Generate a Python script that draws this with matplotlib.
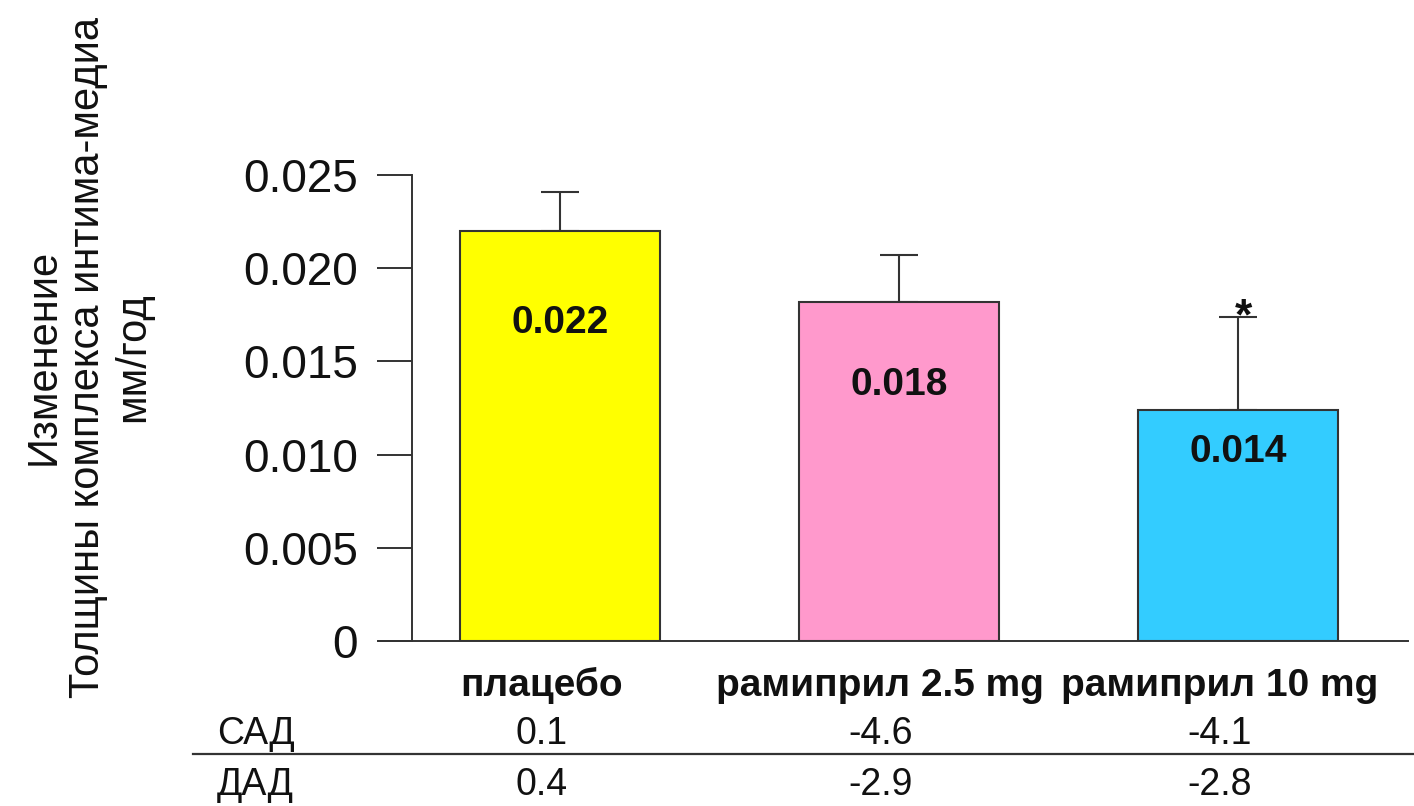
"""
Изменение толщины комплекса интима-медиа (плацебо vs рамиприл)
"""
import matplotlib.pyplot as plt
import numpy as np
from matplotlib.lines import Line2D
from matplotlib.transforms import blended_transform_factory

plt.rcParams["font.family"] = ["Liberation Sans", "DejaVu Sans"]

# data
GROUPS = ["плацебо", "рамиприл 2.5 mg", "рамиприл 10 mg"]
IMT_CHANGE = [0.0220, 0.0182, 0.0124]          # мм/год
IMT_ERR = [0.0021, 0.0025, 0.0050]             # upper error bar
BAR_TEXT = ["0.022", "0.018", "0.014"]
SIGNIF = ["", "", "*"]

ROW_NAMES = ["САД", "ДАД"]
SBP_CHANGE = ["0.1", "-4.6", "-4.1"]
DBP_CHANGE = ["0.4", "-2.9", "-2.8"]

Y_TICKS = [0, 0.005, 0.010, 0.015, 0.020, 0.025]
Y_TICK_LABELS = ["0", "0.005", "0.010", "0.015", "0.020", "0.025"]

COLORS = ["#ffff00", "#ff99cc", "#33ccff"]
EDGE = "#333333"
# how far below the bar top each value label sits (points)
LABEL_DROP_PT = [66, 60, 30]

W, H = 1414, 806


def main():
    fig = plt.figure(figsize=(W / 100, H / 100), dpi=100)
    ax = fig.add_axes([412 / W, 1 - 641 / H, (1408 - 412) / W, (641 - 175) / H])

    x = np.arange(len(GROUPS))
    ax.bar(x, IMT_CHANGE, 0.59, color=COLORS, edgecolor=EDGE, linewidth=1.5, zorder=2)
    ax.errorbar(x, IMT_CHANGE, yerr=[np.zeros(len(x)), IMT_ERR], fmt="none",
                ecolor=EDGE, elinewidth=1.5, capsize=14, capthick=1.5, zorder=1)

    for xi, h, txt, drop in zip(x, IMT_CHANGE, BAR_TEXT, LABEL_DROP_PT):
        ax.annotate(txt, (xi, h), xytext=(0, -drop), textcoords="offset points",
                    ha="center", va="center", fontsize=28, fontweight="bold",
                    color="#111111")

    for xi, h, e, s in zip(x, IMT_CHANGE, IMT_ERR, SIGNIF):
        if s:
            ax.annotate(s, (xi, h + e), xytext=(4, -9), textcoords="offset points",
                        ha="center", va="baseline", fontsize=32, fontweight="bold",
                        color="#111111")

    ax.set_xlim(-0.4366, 2.5015)
    ax.set_ylim(0, 0.025)
    ax.set_yticks(Y_TICKS)
    ax.set_yticklabels(Y_TICK_LABELS)
    ax.set_xticks([])
    ax.tick_params(axis="y", direction="out", length=25, width=1.4, pad=14,
                   labelsize=33, color=EDGE, labelcolor="#111111")
    for side in ["top", "right", "bottom"]:
        ax.spines[side].set_visible(False)
    ax.spines["left"].set_color(EDGE)
    ax.spines["left"].set_linewidth(1.4)

    # x axis line, running out under the tick marks
    ax.add_line(Line2D([-33 / 996, 1], [0, 0], transform=ax.transAxes,
                       color=EDGE, linewidth=1.4, clip_on=False))

    col_tr = blended_transform_factory(ax.transData, fig.transFigure)
    shift = -0.055
    for xi, g in zip(x, GROUPS):
        fig.text(xi + shift, 1 - 696 / H, g, transform=col_tr, ha="center",
                 va="baseline", fontsize=28, fontweight="bold", color="#111111")

    # table of blood pressure changes
    row_y = [1 - 744 / H, 1 - 795 / H]
    for name, vals, yy in zip(ROW_NAMES, [SBP_CHANGE, DBP_CHANGE], row_y):
        fig.text(217 / W, yy, name, ha="left", va="baseline", fontsize=27,
                 color="#111111")
        for xi, v in zip(x, vals):
            fig.text(xi + shift, yy, v, transform=col_tr, ha="center",
                     va="baseline", fontsize=27, color="#111111")
    fig.add_artist(Line2D([193 / W, 1], [1 - 754 / H] * 2, color=EDGE, linewidth=1.6))

    fig.text(88 / W, 1 - 357 / H,
             "Изменение\nТолщины комплекса интима-медиа\nмм/год",
             rotation=90, ha="center", va="center", multialignment="center",
             fontsize=30, color="#111111", linespacing=1.15)

    fig.savefig("out.png", dpi=100)
    plt.close(fig)


if __name__ == "__main__":
    main()
